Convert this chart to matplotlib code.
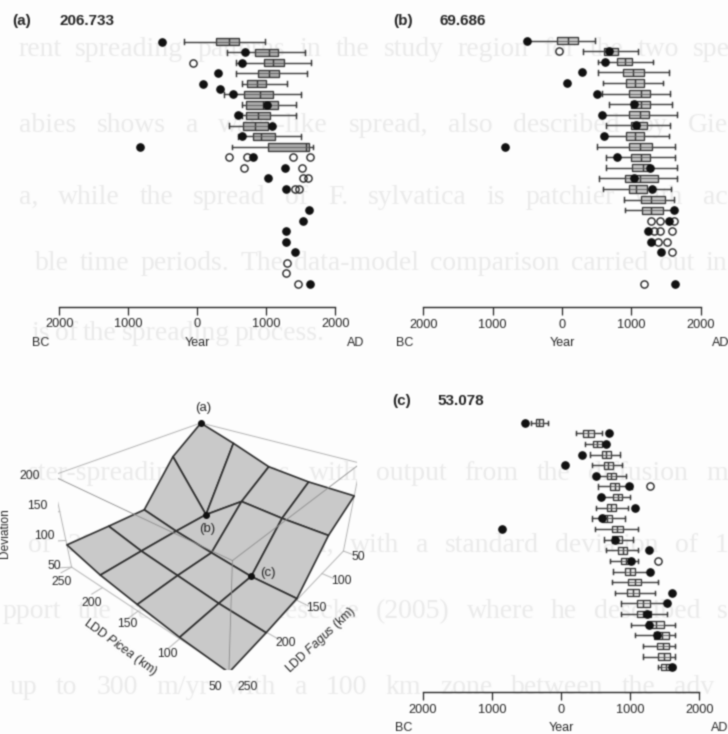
import numpy as np
import matplotlib
matplotlib.use("Agg")
import matplotlib.pyplot as plt

plt.rcParams['font.family'] = ['Liberation Sans', 'DejaVu Sans']
plt.rcParams['mathtext.fontset'] = 'custom'
plt.rcParams['mathtext.it'] = 'Liberation Sans:italic'
plt.rcParams['mathtext.rm'] = 'Liberation Sans'

W, H = 728, 734
INK = '#262626'

# panel (a): box rows 0-10
a_lo = [-193, 425, 556, 556, 643, 386, 643, 643, 464, 594, 507]
a_q1 = [270, 836, 966, 874, 725, 676, 705, 700, 667, 802, 1029]
a_med = [464, 1043, 1101, 1043, 860, 908, 957, 884, 836, 918, 1575]
a_q3 = [609, 1174, 1261, 1188, 995, 1101, 1164, 1053, 1019, 1126, 1623]
a_hi = [981, 1560, 1643, 1594, 1295, 1502, 1425, 1425, 1077, 1502, 1681]
a_obs_row = [0, 1, 2, 3, 4, 4.5, 5, 6, 7, 8, 9, 10, 11, 12, 13, 14, 16, 17, 18, 19, 20, 23]
a_obs_year = [-517, 691, 652, 304, 77, 328, 522, 1014, 594, 1077, 652, -826,
              812, 1271, 1019, 1285, 1618, 1536, 1280, 1280, 1415, 1628]
a_open_row = [2, 11, 11, 11, 11, 12, 12, 13, 13, 14, 14, 21, 22, 23]
a_open_year = [-68, 464, 725, 1391, 1633, 671, 1512, 1536, 1609, 1411, 1478, 1295, 1285, 1464]

# panel (b): box rows 0-16
b_lo = [-490, 303, 519, 519, 591, 577, 673, 577, 639, 606, 510, 630, 630, 534, 591, 894, 904]
b_q1 = [-67, 601, 798, 885, 928, 966, 1000, 971, 990, 918, 962, 1000, 1010, 913, 962, 1144, 1159]
b_med = [87, 711, 913, 1024, 1058, 1135, 1144, 1120, 1106, 1048, 1120, 1135, 1168, 1120, 1072, 1288, 1288]
b_q3 = [231, 808, 1014, 1183, 1183, 1274, 1274, 1255, 1221, 1183, 1298, 1264, 1264, 1385, 1226, 1490, 1457]
b_hi = [481, 1096, 1313, 1538, 1457, 1553, 1587, 1659, 1553, 1538, 1635, 1625, 1659, 1659, 1577, 1615, 1615]
b_obs_row = [0, 1, 2, 3, 4, 5, 6, 7, 8, 9, 10, 11, 12, 13, 14, 16, 17, 18, 19, 20, 23]
b_obs_year = [-505, 678, 615, 293, 67, 505, 1038, 577, 1072, 606, -822, 798,
              1264, 1038, 1303, 1615, 1543, 1245, 1279, 1423, 1625]
b_open_row = [1, 17, 17, 17, 18, 18, 18, 19, 19, 20, 23]
b_open_year = [-48, 1288, 1409, 1615, 1322, 1409, 1587, 1385, 1510, 1587, 1183]

# panel (c): box rows 0-23
c_lo = [-439, 222, 347, 414, 443, 511, 540, 573, 511, 453, 492, 622, 655, 708, 747, 733, 776, 863, 863, 1007, 1070, 1190, 1190, 1402]
c_q1 = [-366, 323, 467, 588, 622, 660, 708, 752, 660, 598, 733, 742, 824, 872, 920, 969, 959, 1094, 1104, 1239, 1345, 1383, 1402, 1451]
c_med = [-313, 395, 525, 655, 684, 723, 776, 819, 723, 670, 814, 810, 891, 935, 993, 1065, 1046, 1190, 1190, 1369, 1455, 1475, 1489, 1518]
c_q3 = [-260, 477, 588, 718, 757, 790, 839, 887, 790, 742, 896, 877, 959, 1007, 1070, 1152, 1128, 1282, 1296, 1489, 1561, 1561, 1576, 1586]
c_hi = [-183, 598, 660, 848, 887, 935, 1031, 993, 973, 925, 1118, 1041, 1118, 1118, 1287, 1407, 1359, 1528, 1528, 1648, 1648, 1648, 1648, 1648]
c_obs_row = [0, 1, 2, 3, 4, 5, 6, 7, 8, 9, 10, 11, 12, 13, 14, 16, 17, 18, 19, 20, 23]
c_obs_year = [-516, 694, 655, 308, 53, 511, 983, 573, 1065, 588, -848, 781,
              1267, 1007, 1287, 1600, 1528, 1248, 1272, 1393, 1610]
c_open_row = [6, 13]
c_open_year = [1282, 1398]

# response surface
ldd_picea = [250, 200, 150, 100, 50]
ldd_fagus = [250, 200, 150, 100, 50]
deviation = [[92.0, 88.5, 86.0, 163.0, 206.733],
             [73.0, 73.0, 72.0, 69.686, 184.5],
             [62.0, 63.5, 62.0, 123.0, 159.5],
             [52.5, 54.0, 53.078, 119.5, 153.5],
             [48.0, 49.0, 53.0, 119.5, 153.0]]

year_ticks = [-2000, -1000, 0, 1000, 2000]
year_labels = ['2000', '1000', '0', '1000', '2000']

# show-through from the other side of the page: start, end, y, words
ghost_lines = [(18, 730, 50, 'rent spreading patterns in the study region for the two spe'),
               (19, 728, 125, 'abies shows a wave-like spread, also described by Gie'),
               (19, 728, 197, 'a, while the spread of F. sylvatica is patchier with ac'),
               (35, 727, 263, 'ble time periods. The data-model comparison carried out in'),
               (31, 325, 333, 'is of the spreading process.'),
               (28, 728, 473, 'ster-spreading patterns with output from the diffusion m'),
               (28, 728, 545, 'of 200 km and 250 km, with a standard deviation of 1'),
               (3, 728, 612, 'pport the results of Giesecke (2005) where he described s'),
               (10, 714, 688, 'up to 300 m/yr with a 100 km zone between the adv')]

fig = plt.figure(figsize=(W / 100, H / 100), dpi=100)
fig.set_facecolor('#fdfdfd')


def put(x, y, s, **kw):
    kw.setdefault('ha', 'center')
    kw.setdefault('va', 'center')
    kw.setdefault('color', INK)
    return fig.text(x / W, 1 - y / H, s, **kw)


# justified lines: measure the words and share out the gaps
rend = fig.canvas.get_renderer()
for gx0, gx1, gy, line in ghost_lines:
    words = [put(gx0, gy, w, ha='left', color='#ebebeb', fontsize=20,
                 family=['Liberation Serif'], zorder=-5) for w in line.split()]
    widths = [t.get_window_extent(rend).width for t in words]
    gap = (gx1 - gx0 - sum(widths)) / max(len(words) - 1, 1)
    x = gx0
    for t, w in zip(words, widths):
        t.set_x(x / W)
        x += w + gap


def panel(xl, xr, yaxis, y0, dy, box, fill, lo, q1, med, q3, hi, orow, oyear, prow, pyear):
    ytop = y0 - 14
    ax = fig.add_axes([xl / W, 1 - yaxis / H, (xr - xl) / W, (yaxis - ytop) / H])
    ax.patch.set_alpha(0)
    stats = [dict(whislo=a, q1=b, med=c, q3=d, whishi=e) for a, b, c, d, e in zip(lo, q1, med, q3, hi)]
    rows = np.arange(len(stats))
    ax.bxp(stats, positions=rows, widths=box, capwidths=box * 0.65,
           orientation='horizontal', patch_artist=True, showfliers=False, manage_ticks=False,
           boxprops=dict(facecolor=fill, edgecolor='#333333', linewidth=0.9),
           medianprops=dict(color='#333333', linewidth=1.0),
           whiskerprops=dict(color='#3a3a3a', linewidth=1.0),
           capprops=dict(color='#303030', linewidth=1.0))
    ax.hlines(rows, q1, q3, color='#5a5a5a', lw=0.6, zorder=3)
    ax.plot(pyear, prow, 'o', mfc='none', mec=INK, mew=1.0, ms=5.2, ls='none', clip_on=False)
    ax.plot(oyear, orow, 'o', color='#111111', ms=5.2, ls='none', clip_on=False, zorder=4)
    ax.set_xlim(-2000, 2000)
    ax.set_ylim((yaxis - y0) / dy, (ytop - y0) / dy)
    for side in ('top', 'left', 'right'):
        ax.spines[side].set_visible(False)
    ax.spines['bottom'].set_color(INK)
    ax.spines['bottom'].set_linewidth(1.0)
    ax.set_yticks([])
    ax.set_xticks(year_ticks, year_labels)
    ax.tick_params(axis='x', length=5.8, width=0.9, color=INK, labelcolor=INK, labelsize=9.2, pad=2.5)
    put(xl - 19, yaxis + 36, 'BC', fontsize=9)
    put((xl + xr) / 2, yaxis + 36, 'Year', fontsize=9)
    put(xr + 20, yaxis + 36, 'AD', fontsize=9)


panel(59.3, 335.3, 306.7, 41.7, 10.52, 0.7, '#ababab', a_lo, a_q1, a_med, a_q3, a_hi,
      a_obs_row, a_obs_year, a_open_row, a_open_year)
panel(423.3, 700.7, 307.3, 40.7, 10.59, 0.68, '#c4c4c4', b_lo, b_q1, b_med, b_q3, b_hi,
      b_obs_row, b_obs_year, b_open_row, b_open_year)
panel(422.7, 699.3, 692.3, 422.7, 10.63, 0.62, '#e6e6e6', c_lo, c_q1, c_med, c_q3, c_hi,
      c_obs_row, c_obs_year, c_open_row, c_open_year)

for x1, x2, y, tag, val in [(12, 59, 21, '(a)', '206.733'), (393, 439, 21, '(b)', '69.686'),
                            (392, 437, 401, '(c)', '53.078')]:
    put(x1, y, tag, ha='left', fontsize=11, fontweight='bold')
    put(x2, y, val, ha='left', fontsize=11, fontweight='bold')

# response surface, camera fitted to the box corners
ax3 = fig.add_axes([57.94 / W, 63.62 / H, 298.96 / W, 298.96 / H], projection='3d', computed_zorder=False)
ax3.patch.set_alpha(0)
ax3.set_xlim(50, 250, view_margin=0)
ax3.set_ylim(50, 250, view_margin=0)
ax3.set_zlim(50, 207, view_margin=0)
ax3.view_init(29.96, 129.52)
ax3.set_proj_type('persp', focal_length=0.2522)
ax3.set_box_aspect((1, 1.0093, 0.5042))
ax3.set_axis_off()

P, F = np.meshgrid(ldd_picea, ldd_fagus, indexing='ij')
Z = np.array(deviation)
ax3.plot_surface(P, F, Z, rstride=1, cstride=1, color='#c9c9c9', shade=False,
                 edgecolor='#2e2e2e', linewidth=1.2, antialiased=True, zorder=2)

edge = dict(color='#b4b4b4', lw=0.7)
zb, zt = 50, 207
for a, b in [((250, 50), (250, 250)), ((250, 50), (50, 50))]:
    ax3.plot([a[0], b[0]], [a[1], b[1]], [zt, zt], zorder=1, **edge)
for a, b in [((250, 250), (50, 250)), ((50, 250), (50, 50))]:
    ax3.plot([a[0], b[0]], [a[1], b[1]], [zt, zt], zorder=3, color='#8c8c8c', lw=0.6)
    ax3.plot([a[0], b[0]], [a[1], b[1]], [zb, zb], zorder=1, **edge)
for x, y in [(250, 250), (50, 50)]:
    ax3.plot([x, x], [y, y], [zb, zt], zorder=1, **edge)
ax3.plot([50, 50], [250, 250], [zb, zt], zorder=3, color='#8c8c8c', lw=0.6)

for v in ldd_picea:
    ax3.plot([v, v], [250, 262], [zb, zb], zorder=1, **edge)
for v in ldd_fagus:
    ax3.plot([50, 38], [v, v], [zb, zb], zorder=1, **edge)
for v in [50, 100, 150, 200]:
    ax3.plot([250, 260], [250, 260], [v, v], zorder=1, **edge)

# the three runs shown in panels (a), (b), (c)
ax3.plot([250, 200, 100], [50, 100, 150], [deviation[0][4], deviation[1][3], deviation[3][2]],
         'o', color='#111111', ms=4, ls='none', zorder=5)

put(203, 408, '(a)', fontsize=9.5)
put(207, 529, '(b)', fontsize=9.5)
put(268, 573, '(c)', fontsize=9.5)

for x, y, s in [(30, 476, '200'), (37, 506, '150'), (44, 536, '100'), (54, 566, '50'),
                (62, 582, '250'), (92, 603, '200'), (127, 624, '150'), (167, 654, '100'), (215, 687, '50'),
                (248, 687, '250'), (286, 643, '200'), (316, 608, '150'), (341, 581, '100'), (358, 557, '50')]:
    put(x, y, s, fontsize=8.8)

put(120, 647, 'LDD $\\mathit{Picea}$ (km)', fontsize=8.8, rotation=-36, rotation_mode='anchor')
put(321, 640, 'LDD $\\mathit{Fagus}$ (km)', fontsize=8.8, rotation=43, rotation_mode='anchor')
put(5, 533, 'Deviation', fontsize=8.6, rotation=90)

# the source is a soft scan, so take the sharp edge off the render
fig.canvas.draw()
img = np.asarray(fig.canvas.buffer_rgba())[:, :, :3] / 255.0
kernel = np.array([0.2, 0.6, 0.2])
for axis in (0, 1):
    img = np.apply_along_axis(lambda v: np.convolve(np.pad(v, 1, mode='edge'), kernel, 'valid'), axis, img)
plt.imsave('out.png', np.clip(img, 0, 1))
